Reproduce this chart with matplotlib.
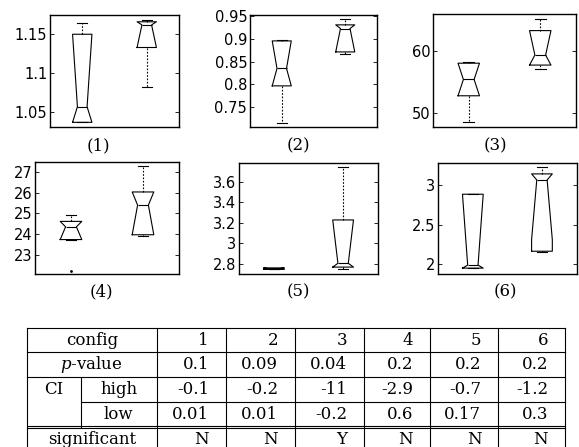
import matplotlib.pyplot as plt

W, H = 579, 447

# y ranges and ticks of the six panels
ylims = [(1.031, 1.1747), (0.708, 0.9515), (47.77, 65.85),
         (22.1, 27.48), (2.703, 3.784), (1.878, 3.28)]
yticks = [[1.05, 1.1, 1.15], [0.75, 0.8, 0.85, 0.9, 0.95], [50, 60],
          [23, 24, 25, 26, 27], [2.8, 3.0, 3.2, 3.4, 3.6], [2.0, 2.5, 3.0]]
ytick_labels = [["1.05", "1.1", "1.15"], ["0.75", "0.8", "0.85", "0.9", "0.95"],
                ["50", "60"], ["23", "24", "25", "26", "27"],
                ["2.8", "3", "3.2", "3.4", "3.6"], ["2", "2.5", "3"]]
panel_names = ["(1)", "(2)", "(3)", "(4)", "(5)", "(6)"]

# box statistics, two groups per panel
whis_lo = [[1.037, 1.082], [0.717, 0.866], [48.6, 57.0],
           [23.75, 23.9], [2.748, 2.75], [1.952, 2.16]]
q1 = [[1.037, 1.133], [0.797, 0.871], [52.8, 57.7],
      [23.75, 23.98], [2.750, 2.77], [1.952, 2.165]]
med = [[1.057, 1.162], [0.835, 0.922], [55.4, 59.3],
       [24.36, 25.40], [2.755, 2.807], [1.99, 3.063]]
q3 = [[1.150, 1.166], [0.895, 0.930], [58.0, 63.2],
      [24.62, 26.03], [2.762, 3.228], [2.883, 3.139]]
whis_hi = [[1.165, 1.168], [0.896, 0.943], [58.2, 65.0],
           [24.92, 27.27], [2.764, 3.74], [2.883, 3.223]]
notch_lo = [[1.037, 1.133], [0.797, 0.871], [52.8, 57.7],
            [23.75, 23.98], [2.750, 2.77], [1.952, 2.31]]
notch_hi = [[1.150, 1.166], [0.895, 0.930], [58.0, 63.2],
            [24.62, 26.03], [2.762, 3.228], [2.883, 3.139]]
outliers = [[[], []], [[], []], [[], []], [[22.25], []], [[], []], [[], []]]

# table contents
configs = ["1", "2", "3", "4", "5", "6"]
p_values = ["0.1", "0.09", "0.04", "0.2", "0.2", "0.2"]
ci_high = ["-0.1", "-0.2", "-11", "-2.9", "-0.7", "-1.2"]
ci_low = ["0.01", "0.01", "-0.2", "0.6", "0.17", "0.3"]
significant = ["N", "N", "Y", "N", "N", "N"]

# panel frames in pixels: left, top, right, bottom
axes_px = [(50, 15, 179, 127), (250, 15, 377, 126.7), (433, 14, 576, 127.3),
           (35, 161.7, 179, 274), (239.3, 162.7, 377.7, 274), (438.3, 162.7, 576.5, 274)]
label_px = [(98, 146), (298, 146), (495, 146), (101, 292), (298, 292), (505, 292)]

serif = "DejaVu Serif"
plt.rcParams["mathtext.fontset"] = "dejavuserif"
fig = plt.figure(figsize=(W / 100, H / 100), dpi=100)

line_kw = dict(color="k", lw=0.8)
for i in range(6):
    x0, y0, x1, y1 = axes_px[i]
    ax = fig.add_axes([x0 / W, 1 - y1 / H, (x1 - x0) / W, (y1 - y0) / H])
    stats = []
    for j in range(2):
        stats.append(dict(whislo=whis_lo[i][j], q1=q1[i][j], med=med[i][j],
                          q3=q3[i][j], whishi=whis_hi[i][j],
                          cilo=notch_lo[i][j], cihi=notch_hi[i][j],
                          fliers=outliers[i][j]))
    ax.bxp(stats, positions=[1, 2], widths=0.3, shownotches=True, showfliers=True,
           boxprops=line_kw, medianprops=line_kw, capprops=line_kw,
           whiskerprops=dict(color="k", lw=0.8, linestyle=(0, (1.5, 1.5))),
           flierprops=dict(marker=".", markersize=2, markerfacecolor="k",
                           markeredgecolor="k"))
    ax.set_xlim(0.5, 2.5)
    ax.set_ylim(*ylims[i])
    ax.set_xticks([])
    ax.set_yticks(yticks[i])
    ax.set_yticklabels(ytick_labels[i], fontsize=10.5)
    ax.tick_params(axis="y", direction="in", left=True, right=True,
                   length=3, width=0.6, pad=2)
    for s in ax.spines.values():
        s.set_linewidth(1.0)
    lx, ly = label_px[i]
    fig.text(lx / W, 1 - ly / H, panel_names[i], ha="center", va="center",
             family=serif, fontsize=12)

# table drawn in pixel coordinates
tab = fig.add_axes([0, 0, 1, 1])
tab.set_xlim(0, W)
tab.set_ylim(H, 0)
tab.axis("off")

col_x = [26.7, 156.7, 226, 295, 364, 430, 498.3, 565]
sub_x = 81
row_y = [328.3, 352.3, 377.3, 402.3, 426.8, 451]
bottom = row_y[-1]
tk = dict(color="k", lw=0.8, clip_on=False)

for y in (row_y[0], row_y[1], row_y[2]):
    tab.plot([col_x[0], col_x[-1]], [y, y], **tk)
tab.plot([sub_x, col_x[-1]], [row_y[3], row_y[3]], **tk)
for y in (row_y[4] - 1.1, row_y[4] + 1.1):
    tab.plot([col_x[0], col_x[-1]], [y, y], **tk)
tab.plot([col_x[0], col_x[-1]], [bottom, bottom], **tk)
for x in col_x:
    tab.plot([x, x], [row_y[0], bottom], **tk)
tab.plot([sub_x, sub_x], [row_y[2], row_y[4]], **tk)

txt = dict(family=serif, fontsize=12, va="center")
mid = [(row_y[k] + row_y[k + 1]) / 2 for k in range(4)] + [439]
first_c = (col_x[0] + col_x[1]) / 2
tab.text(first_c, mid[0], "config", ha="center", **txt)
tab.text(first_c, mid[1], "$p$-value", ha="center", **txt)
tab.text((col_x[0] + sub_x) / 2, mid[2], "CI", ha="center", **txt)
tab.text((sub_x + col_x[1]) / 2, mid[2], "high", ha="center", **txt)
tab.text((sub_x + col_x[1]) / 2, mid[3], "low", ha="center", **txt)
tab.text(first_c, mid[4], "significant", ha="center", **txt)

rows = [configs, p_values, ci_high, ci_low, significant]
for r, values in enumerate(rows):
    for c, v in enumerate(values):
        tab.text(col_x[c + 2] - 17, mid[r], v, ha="right", **txt)

fig.savefig("out.png", dpi=100)
